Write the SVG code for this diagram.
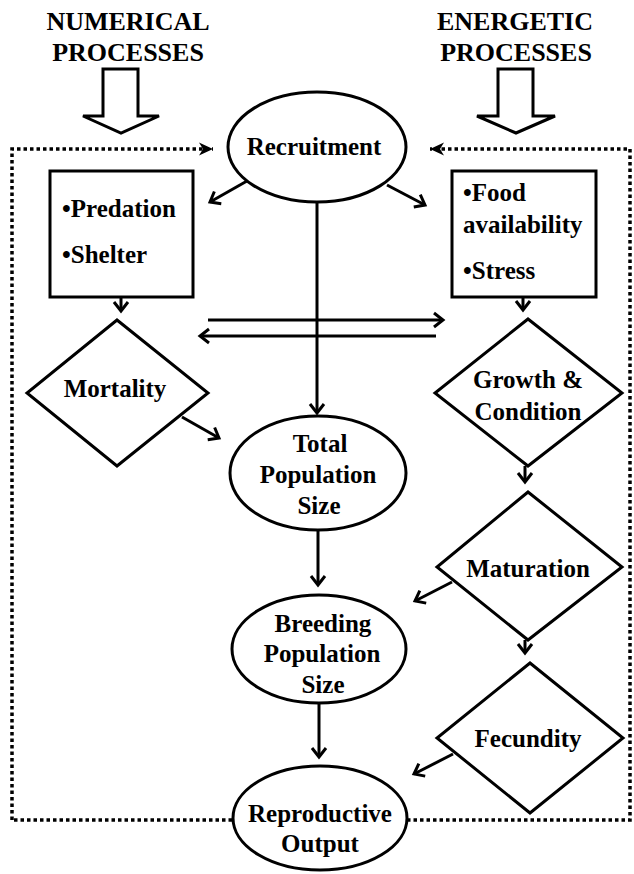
<svg xmlns="http://www.w3.org/2000/svg" width="634" height="874" viewBox="0 0 634 874">
<style>
.t{font-family:"Liberation Serif","Times New Roman","DejaVu Serif",serif;font-weight:bold;font-size:25px;fill:#000}
.h{font-size:26px}
.c{text-anchor:middle}
.s{fill:#fff;stroke:#000;stroke-width:3}
.l{fill:none;stroke:#000;stroke-width:3}
.d{fill:none;stroke:#000;stroke-width:3.5;stroke-dasharray:3.5 3}
</style>
<defs>
<marker id="a" markerUnits="userSpaceOnUse" markerWidth="16" markerHeight="18" refX="11" refY="9" orient="auto"><path d="M2,2 L11,9 L2,16" fill="none" stroke="#000" stroke-width="3"/></marker>
<marker id="f" markerUnits="userSpaceOnUse" markerWidth="15" markerHeight="15" refX="14" refY="7.5" orient="auto"><path d="M0,1 L14,7.5 L0,14 L4,7.5 z" fill="#000"/></marker>
</defs>
<rect width="634" height="874" fill="#fff"/>
<g id="numerical">
<text class="t h c" x="128" y="30">NUMERICAL</text>
<text class="t h c" x="128" y="61">PROCESSES</text>
<polygon class="s" points="103,69 138,69 138,116 159,116 121,133 83,116 103,116"/>
</g>
<g id="energetic">
<text class="t h c" x="515" y="30">ENERGETIC</text>
<text class="t h c" x="516" y="61">PROCESSES</text>
<polygon class="s" points="498,69 533,69 533,116 555,116 516,133 477,116 498,116"/>
</g>
<g id="connectors">
<path class="d" d="M12,820 L12,149 L213,149" marker-end="url(#f)"/>
<path class="d" d="M232,820 L12,820"/>
<path class="d" d="M407,820 L630,820 L630,149 L430,149" marker-end="url(#f)"/>
<line class="l" x1="247" y1="181" x2="210" y2="202" marker-end="url(#a)"/>
<line class="l" x1="387" y1="185" x2="425" y2="205" marker-end="url(#a)"/>
<line class="l" x1="317" y1="202" x2="317" y2="413" marker-end="url(#a)"/>
<line class="l" x1="208" y1="320" x2="443" y2="320" marker-end="url(#a)"/>
<line class="l" x1="436" y1="336" x2="200" y2="336" marker-end="url(#a)"/>
<line class="l" x1="121" y1="297" x2="121" y2="311" marker-end="url(#a)"/>
<line class="l" x1="523" y1="297" x2="523" y2="310" marker-end="url(#a)"/>
<line class="l" x1="182" y1="417" x2="219" y2="438" marker-end="url(#a)"/>
<line class="l" x1="525" y1="466" x2="525" y2="482" marker-end="url(#a)"/>
<line class="l" x1="318" y1="530" x2="318" y2="585" marker-end="url(#a)"/>
<line class="l" x1="452" y1="582" x2="415" y2="601" marker-end="url(#a)"/>
<line class="l" x1="525" y1="640" x2="525" y2="653" marker-end="url(#a)"/>
<line class="l" x1="319" y1="703" x2="319" y2="757" marker-end="url(#a)"/>
<line class="l" x1="453" y1="754" x2="414" y2="774" marker-end="url(#a)"/>
</g>
<g id="recruitment">
<ellipse class="s" cx="317" cy="147" rx="89" ry="55"/>
<text class="t c" x="314" y="155">Recruitment</text>
</g>
<g id="predation-box">
<rect class="s" x="50" y="171" width="143" height="126"/>
<text class="t" x="62" y="217">•Predation</text>
<text class="t" x="62" y="263">•Shelter</text>
</g>
<g id="food-box">
<rect class="s" x="452" y="171" width="144" height="126"/>
<text class="t" x="463" y="201">•Food</text>
<text class="t" x="463" y="233">availability</text>
<text class="t" x="463" y="279">•Stress</text>
</g>
<g id="mortality">
<polygon class="s" points="117,320 208,393 117,466 27,393"/>
<text class="t c" x="115" y="397">Mortality</text>
</g>
<g id="growth">
<polygon class="s" points="528,319 622,393 528,466 435,393"/>
<text class="t c" x="528" y="388">Growth &amp;</text>
<text class="t c" x="528" y="420">Condition</text>
</g>
<g id="total">
<ellipse class="s" cx="318" cy="473" rx="88" ry="57"/>
<text class="t c" x="320" y="452">Total</text>
<text class="t c" x="318" y="483">Population</text>
<text class="t c" x="319" y="514">Size</text>
</g>
<g id="maturation">
<polygon class="s" points="528,492 622,567 528,640 437,567"/>
<text class="t c" x="528" y="577">Maturation</text>
</g>
<g id="breeding">
<ellipse class="s" cx="319" cy="649" rx="87" ry="54"/>
<text class="t c" x="323" y="632">Breeding</text>
<text class="t c" x="322" y="662">Population</text>
<text class="t c" x="323" y="693">Size</text>
</g>
<g id="fecundity">
<polygon class="s" points="530,663 623,738 530,813 437,738"/>
<text class="t c" x="528" y="747">Fecundity</text>
</g>
<g id="reproductive">
<ellipse class="s" cx="320" cy="818" rx="87" ry="52"/>
<text class="t c" x="320" y="822">Reproductive</text>
<text class="t c" x="320" y="852">Output</text>
</g>
</svg>
